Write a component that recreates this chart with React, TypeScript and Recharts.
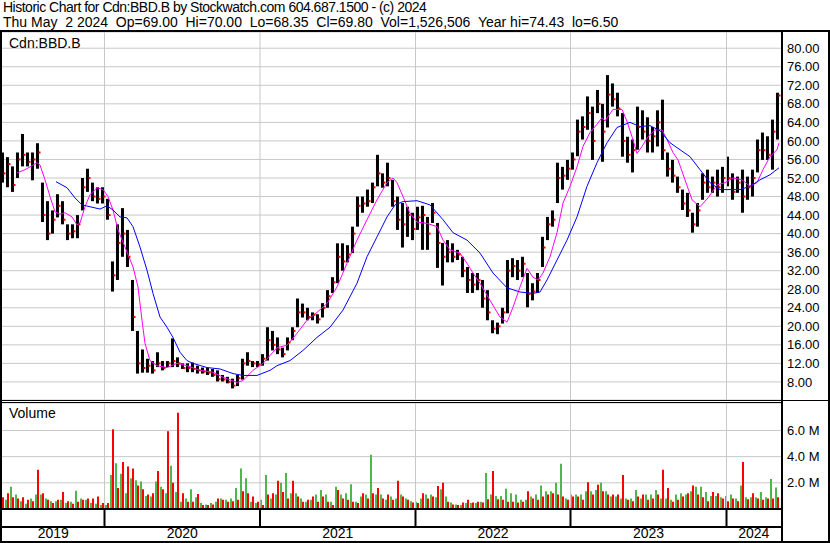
import {
  Bar,
  CartesianGrid,
  ComposedChart,
  Line,
  ReferenceLine,
  Scatter,
  XAxis,
  YAxis,
} from 'recharts';

// One slot = about 1.6 weeks of trading.
const high = [
  57.5, 56.5, 54.5, 57.5, 61.5, 57.5, 57.5, 59.5, 51, 47, 45, 48.5, 47, 42, 42, 44, 52, 54, 51, 50,
  50, 47.5, 34, 42, 45.5, 40.8, 30, 19, 15, 13, 12.5, 14.4, 12.5, 12.5, 17.4, 13.3, 12, 12, 12.2, 11.5,
  11.1, 11.1, 10.8, 10.5, 9.5, 9.1, 8.7, 9.5, 13, 14.4, 12.5, 12.5, 14, 19.8, 19, 17.6, 15.4, 17.6, 19.8, 26,
  24.9, 24, 23, 22.6, 25, 27.8, 30.6, 37.9, 37.9, 37.5, 41.5, 48, 48, 49.5, 51, 57, 53, 55.3, 51.6, 48,
  46.6, 45.8, 44.5, 45.8, 46, 43.6, 46.6, 42.3, 38, 38.6, 37.9, 36.5, 35, 32.8, 31.5, 31.5, 30, 27.8, 21.3, 20.8,
  24, 34.3, 34.7, 34.3, 35, 31.5, 29.3, 31.5, 39.3, 43.6, 45, 55.3, 54.4, 55.9, 57.5, 64.6, 65.3, 69.6, 67.4, 71,
  68, 74.2, 72.4, 70.4, 66, 60.9, 60.3, 67.4, 66.6, 65.1, 63, 66.6, 68.9, 57.5, 55.9, 52.3, 49.5, 48.8, 44.5, 46.6,
  53, 53.8, 52.3, 53.8, 54.4, 56.6, 53, 52.3, 53.8, 52.3, 53.8, 60.3, 61.8, 61, 64.6, 70.4,
];
const low = [
  51, 50, 49, 52, 54.5, 54.5, 51.5, 54, 42.5, 38.6, 40, 43.5, 42, 38.6, 39, 39, 45, 49, 47, 46.5,
  46.5, 43, 27.5, 30, 35, 32.8, 19, 9.8, 10, 10, 9.8, 11.2, 10.5, 11.2, 11.2, 11.2, 10.8, 10.1, 10.1, 9.8,
  9.8, 9.5, 9.1, 8.1, 8.1, 7.7, 6.6, 7.1, 8.5, 11.5, 11.2, 11.2, 11.5, 12.6, 14.8, 14, 13.3, 14.8, 17, 19.8,
  21.9, 21.3, 21.3, 20.6, 21.9, 24, 27.2, 29.3, 32, 33.8, 35.8, 41.5, 44.5, 45.8, 46.6, 50.2, 49.9, 50.2, 45.8, 40.8,
  37, 39.3, 38.6, 40.8, 36.5, 36.5, 42.3, 32.6, 28.8, 33.8, 33.8, 34.3, 30.6, 27.2, 27.2, 27.8, 24, 21.3, 18.5, 18.3,
  20.6, 22.8, 30.6, 30, 30.6, 24.1, 25.6, 27.2, 32.8, 38.6, 41.5, 46.6, 49.5, 51.6, 53.8, 56.7, 60.3, 62.4, 55.9, 66,
  55.5, 62.9, 67.4, 65.3, 56.6, 55.3, 53.2, 58.1, 60.3, 57.5, 57.5, 58.8, 55.9, 52.3, 51, 48.8, 45.1, 43.6, 40.2, 41.5,
  47.3, 48.8, 48.8, 48, 48.8, 50.2, 47.3, 48.8, 44.5, 47.3, 48, 53.2, 55.9, 55.9, 53.8, 60.3,
];
const close = [
  53, 55, 50.5, 56, 57, 55.5, 56, 57.5, 44, 40, 43, 46, 43, 40, 40.5, 42, 50, 52, 48, 47.5,
  48, 44, 31, 38, 40, 35, 22, 12, 11, 11.5, 10.5, 12, 11, 12, 12.5, 12, 11, 11, 10.8, 10.5,
  10.2, 10, 9.5, 8.6, 8.5, 8, 7.2, 8.8, 12, 12.5, 12, 11.8, 13, 17, 16, 15, 14, 16.5, 19, 23,
  23, 22, 22.5, 21.5, 24, 26.5, 29.5, 35, 34, 35.5, 40, 46, 46.5, 47, 50, 53, 51, 52, 47, 43,
  42, 44, 41, 43.5, 44, 40, 44.5, 38, 35, 36, 35, 35.5, 32, 30, 29, 30, 26, 23, 19.5, 20,
  23, 32, 33, 32, 33.5, 27, 27.5, 30, 37, 42, 43, 52, 52.5, 54, 56, 62, 63, 66, 60, 68,
  62, 70, 69, 67, 60, 57, 58, 63, 62, 60, 61, 64, 58, 54, 52.5, 50, 46.5, 45, 42, 45,
  51, 50, 51, 50, 52, 52, 49, 51, 48, 50, 52, 58, 58, 57, 62, 69.8,
];

// Volume in millions, split into up-day and down-day volume per slot.
const volUp = [
  0.6, 0.7, 1.7, 1.1, 0.6, 0.4, 0.8, 1.1, 1.1, 0.8, 0.6, 0.6, 0.7, 0.45, 0.55, 1.4, 0.8, 0.7, 0.45, 0.4,
  0.3, 0.3, 2.6, 3.5, 2.7, 1.2, 2.35, 2.2, 2.1, 1.0, 0.95, 2.1, 1.7, 1.2, 3.3, 1.3, 0.55, 0.8, 1.5, 0.9,
  0.45, 0.35, 0.45, 0.55, 0.8, 0.7, 0.8, 1.6, 3.1, 2.35, 0.55, 0.45, 0.7, 2.6, 0.8, 1.1, 2.0, 2.75, 1.2, 1.2,
  0.8, 0.55, 0.7, 1.1, 1.45, 1.1, 0.55, 1.7, 1.1, 1.2, 1.9, 0.55, 0.95, 1.1, 4.15, 1.1, 1.1, 0.7, 0.95, 0.8,
  1.1, 0.8, 0.6, 0.55, 0.8, 1.1, 1.1, 0.9, 1.5, 0.95, 0.5, 0.35, 0.3, 0.45, 0.45, 0.45, 0.55, 2.75, 1.1, 1.0,
  1.0, 1.55, 1.2, 1.1, 0.7, 0.7, 0.95, 1.1, 1.8, 1.35, 1.35, 2.0, 3.45, 0.8, 1.1, 1.1, 1.1, 1.35, 1.35, 1.45,
  2.0, 1.35, 0.95, 0.95, 0.8, 0.8, 0.8, 1.45, 0.8, 1.1, 1.1, 1.45, 0.8, 0.8, 0.7, 1.1, 1.2, 1.1, 1.35, 1.7,
  1.7, 1.3, 1.0, 1.0, 0.9, 1.0, 1.1, 0.8, 1.8, 0.9, 0.9, 0.9, 1.3, 0.9, 2.3, 1.65,
];
const volDown = [
  0.9, 1.2, 0.9, 0.8, 0.9, 0.7, 0.6, 3.0, 1.2, 0.7, 0.45, 0.7, 1.3, 0.6, 0.4, 0.55, 0.7, 0.8, 0.8, 0.95,
  0.45, 0.45, 6.1, 1.6, 3.6, 3.25, 3.1, 1.8, 1.5, 1.1, 1.2, 2.9, 1.5, 5.95, 2.0, 7.36, 1.2, 0.55, 0.55, 1.15,
  0.3, 0.3, 0.35, 0.8, 0.7, 0.55, 0.6, 0.7, 1.35, 1.2, 0.95, 0.55, 0.3, 1.1, 1.2, 2.15, 1.3, 0.8, 2.15, 0.95,
  0.55, 0.7, 0.95, 0.55, 0.95, 0.55, 0.3, 1.45, 0.8, 0.7, 0.55, 0.45, 1.2, 0.8, 1.2, 1.6, 0.8, 1.1, 0.7, 2.15,
  0.95, 0.7, 0.5, 0.45, 1.2, 0.8, 0.95, 1.75, 2.0, 0.55, 0.35, 0.3, 0.5, 0.7, 0.5, 0.55, 0.5, 0.75, 2.9, 0.75,
  0.7, 0.55, 0.55, 0.5, 0.55, 1.35, 0.8, 0.7, 0.95, 1.1, 1.2, 1.1, 0.95, 0.7, 0.95, 0.95, 0.7, 2.05, 1.1, 1.85,
  1.35, 1.1, 1.1, 1.1, 2.6, 0.7, 0.6, 0.95, 1.1, 0.7, 0.8, 1.1, 3.0, 1.6, 0.55, 0.7, 0.95, 1.2, 1.8, 1.1,
  0.9, 0.6, 1.3, 1.2, 0.8, 0.6, 0.8, 0.6, 3.6, 0.75, 1.2, 0.8, 0.7, 0.8, 0.8, 0.9,
];

// Moving averages as [slot, value] pairs.
const fastMa = [
  [2.9, 53.1], [4.5, 53.8], [5.5, 54.4], [6.9, 55.3], [7.5, 54.8], [8.5, 51.6], [9.5, 48], [10.5, 44.7],
  [11.5, 44.2], [12.5, 44.5], [13.9, 43.6], [14.9, 41.9], [15.5, 42.3], [16.5, 45.8], [17.5, 48.4], [18.9, 49.9],
  [20.1, 49.5], [21.1, 48], [22.1, 45.1], [23.1, 40.8], [24.5, 37.1], [26.1, 32.8], [27.1, 28.5], [27.9, 21.3],
  [28.5, 16.3], [29.5, 12.6], [30.9, 11.5], [32.9, 11.1], [34.9, 12], [36.9, 11.5], [39.5, 10.5], [42.1, 10.1],
  [44.1, 9], [46.9, 7.9], [48.1, 8.3], [50.1, 10.5], [52.1, 12], [54.9, 15.4], [56.9, 15.9], [58.9, 18.5],
  [60.9, 21.3], [62.9, 23], [64.9, 24.9], [66.9, 28.5], [68.9, 33.6], [70.9, 38.6], [72.9, 43], [74.9, 47.3],
  [76.9, 51], [78.1, 52], [78.9, 51], [80.1, 48], [81.5, 44.4], [82.9, 42.5], [84.9, 42.2], [86.9, 41.5],
  [88.1, 38.6], [89.5, 36.5], [91.5, 35.8], [92.9, 33.6], [94.1, 31.5], [95.5, 29.3], [97.5, 25.6], [99.5, 22],
  [100.9, 20.9], [102.1, 24.1], [103.5, 28.5], [104.9, 32.5], [106.1, 30.6], [107.1, 30], [108.1, 31.5], [109.5, 35],
  [110.9, 40.2], [112.1, 46.6], [113.5, 50.2], [114.9, 54.4], [116.1, 58.8], [117.5, 61.8], [118.9, 63.6], [119.9, 65],
  [120.5, 64.3], [122.1, 66.8], [123.9, 66.8], [124.9, 64.2], [125.9, 60.9], [126.9, 57.3], [127.9, 58.8], [129.1, 60.9],
  [130.5, 62.4], [131.9, 62.4], [132.9, 60.3], [134.1, 57.5], [135.1, 55.9], [136.5, 51.6], [137.9, 47.3], [139.5, 45.8],
  [141.1, 47.7], [142.9, 50.5], [144.5, 51], [146.1, 52], [147.9, 51.6], [149.5, 50.2], [150.9, 51], [152.1, 53.8],
  [153.5, 56.6], [154.9, 58.1], [155.3, 59.6],
];
const slowMa = [
  [10.7, 51.2], [12.9, 49.9], [14.5, 47.7], [15.9, 46.2], [17.5, 45.8], [19.5, 45.3], [20.9, 46], [22.1, 45.1],
  [23.5, 43.6], [24.9, 43.4], [26.1, 41.5], [27.5, 37.1], [28.9, 32.1], [30.1, 27.1], [31.5, 22], [32.9, 19.8],
  [34.1, 17.6], [35.5, 14.4], [36.9, 12.6], [38.1, 12], [40.9, 11.1], [43.5, 10.8], [46.1, 9.8], [48.1, 9.4],
  [50.9, 9.4], [53.5, 10.5], [54.9, 11.5], [57.5, 12.6], [60.1, 14.8], [62.9, 17.6], [65.5, 19.8], [68.1, 23.5],
  [70.9, 29.3], [72.9, 35], [74.9, 39.3], [76.9, 43.6], [78.5, 46.2], [80.1, 46.9], [82.9, 47.1], [85.5, 46.2],
  [88.1, 43], [90.1, 40.2], [92.9, 38.6], [95.5, 35.8], [98.1, 31.5], [100.9, 28.3], [103.5, 27.4], [106.1, 27.1],
  [107.5, 27.4], [108.9, 30], [110.9, 34.3], [112.9, 38.6], [114.9, 43.6], [116.9, 50.2], [118.9, 55.3], [120.9, 59.6],
  [122.9, 62.9], [125.5, 64], [127.5, 63.1], [129.5, 63.3], [131.5, 62.2], [133.5, 59.6], [135.5, 58.1], [137.5, 56.6],
  [139.5, 53.8], [141.5, 51], [143.5, 49.5], [145.5, 49.5], [147.5, 49.5], [149.5, 50.2], [151.5, 51.6], [153.5, 52.7],
  [155.3, 54.2],
];

const years = ['2019', '2020', '2021', '2022', '2023', '2024'];
const yearStarts = [20.4, 51.5, 82.6, 113.6, 144.8];
const priceTicks = [8, 12, 16, 20, 24, 28, 32, 36, 40, 44, 48, 52, 56, 60, 64, 68, 72, 76, 80];
const volTicks = [2, 4, 6];

const X_DOMAIN: [number, number] = [-0.1, 155.7];
const FONT = '"Liberation Sans", Arial, sans-serif';
const GRID = '#c8c8c8';

const priceRows = high.map((h, i) => ({ t: i, range: [low[i], h], close: close[i] }));
const volRows = volUp.map((u, i) => ({ t: i, up: u, down: volDown[i] }));
const fastRows = fastMa.map(([t, v]) => ({ t, v }));
const slowRows = slowMa.map(([t, v]) => ({ t, v }));

const bounds = [X_DOMAIN[0], ...yearStarts, X_DOMAIN[1]];
const yearMids = years.map((_, i) => (bounds[i] + bounds[i + 1]) / 2);

// high-low bar, centred on its slot
function RangeBar(props: any) {
  const { x, y, width, height } = props;
  if (height == null || isNaN(height)) return null;
  return <rect x={x + width / 2 - 1.5} y={y} width={3} height={Math.max(height, 1)} fill="#000" />;
}

function YearTick(props: any) {
  const { x, y, payload } = props;
  if (yearStarts.includes(payload.value)) {
    return <line x1={x} x2={x} y1={y} y2={y + 17} stroke="#000" strokeWidth={2} />;
  }
  const k = yearMids.indexOf(payload.value);
  return (
    <text x={x} y={y + 29} textAnchor="middle" fontSize={14} fontFamily={FONT} fill="#000">
      {years[k]}
    </text>
  );
}

function Rule({ left, top, width, height }: { left: number; top: number; width: number; height: number }) {
  return <div style={{ position: 'absolute', left, top, width, height, background: '#000' }} />;
}

export default function App() {
  const axisTick = { fontSize: 13, fontFamily: FONT, fill: '#000' };
  return (
    <div style={{ position: 'relative', width: 830, height: 543, background: '#fff', fontFamily: FONT, overflow: 'hidden' }}>
      <style>{'body{margin:0}'}</style>
      <div style={{ position: 'absolute', left: 3, top: 0, fontSize: 14, lineHeight: '15px', whiteSpace: 'pre', letterSpacing: -0.5 }}>
        Historic Chart for Cdn:BBD.B by Stockwatch.com 604.687.1500 - (c) 2024
      </div>
      <div style={{ position: 'absolute', left: 3, top: 15, fontSize: 14, lineHeight: '15px', whiteSpace: 'pre' }}>
        {'Thu May  2 2024  Op=69.00  Hi=70.00  Lo=68.35  Cl=69.80  Vol=1,526,506  Year hi=74.43  lo=6.50'}
      </div>

      <div style={{ position: 'absolute', left: 2, top: 32 }}>
        <ComposedChart width={826} height={368} data={priceRows} margin={{ top: 0, right: 0, bottom: 0, left: 0 }}>
          <CartesianGrid stroke={GRID} vertical={false} />
          <XAxis type="number" dataKey="t" domain={X_DOMAIN} hide />
          <YAxis
            orientation="right"
            width={47}
            domain={[4.1, 83.5]}
            ticks={priceTicks}
            interval={0}
            axisLine={false}
            tickLine={false}
            tickSize={6}
            tickMargin={0}
            tick={axisTick}
            tickFormatter={(v: number) => v.toFixed(2)}
          />
          {yearStarts.map((t) => (
            <ReferenceLine key={t} x={t} stroke={GRID} />
          ))}
          <Bar dataKey="range" barSize={3} fill="#000" shape={<RangeBar />} isAnimationActive={false} />
          <Scatter
            dataKey="close"
            isAnimationActive={false}
            shape={(p: any) => <rect x={p.cx + 1} y={p.cy - 1} width={2} height={2} fill="#ff0000" />}
          />
          <Line data={fastRows} dataKey="v" type="linear" stroke="#ff00ff" strokeWidth={1} dot={false} isAnimationActive={false} />
          <Line data={slowRows} dataKey="v" type="linear" stroke="#0000ff" strokeWidth={1} dot={false} isAnimationActive={false} />
        </ComposedChart>
      </div>

      <div style={{ position: 'absolute', left: 2, top: 403 }}>
        <ComposedChart
          width={826}
          height={138}
          data={volRows}
          margin={{ top: 0, right: 0, bottom: 0, left: 0 }}
          barGap={0}
          barCategoryGap={0}
        >
          <CartesianGrid stroke={GRID} vertical={false} />
          <XAxis
            type="number"
            dataKey="t"
            domain={X_DOMAIN}
            ticks={[...yearStarts, ...yearMids].sort((a, b) => a - b)}
            interval={0}
            height={32}
            axisLine={{ stroke: '#000', strokeWidth: 2 }}
            tickLine={false}
            tickSize={0}
            tickMargin={0}
            tick={<YearTick />}
          />
          <YAxis
            orientation="right"
            width={47}
            domain={[0, 8.1]}
            ticks={volTicks}
            interval={0}
            axisLine={false}
            tickLine={false}
            tickSize={6}
            tickMargin={0}
            tick={axisTick}
            tickFormatter={(v: number) => `${v.toFixed(1)} M`}
          />
          {yearStarts.map((t) => (
            <ReferenceLine key={t} x={t} stroke={GRID} />
          ))}
          <Bar dataKey="up" fill="#4cb84c" isAnimationActive={false} />
          <Bar dataKey="down" fill="#ff0000" isAnimationActive={false} />
        </ComposedChart>
      </div>

      <div style={{ position: 'absolute', left: 9, top: 35, fontSize: 14 }}>Cdn:BBD.B</div>
      <div style={{ position: 'absolute', left: 9, top: 405, fontSize: 14 }}>Volume</div>

      <Rule left={0} top={30} width={830} height={2} />
      <Rule left={0} top={400} width={830} height={1} />
      <Rule left={0} top={402} width={782} height={1} />
      <Rule left={0} top={526} width={782} height={2} />
      <Rule left={0} top={541} width={830} height={2} />
      <Rule left={0} top={30} width={2} height={513} />
      <Rule left={781} top={30} width={2} height={513} />
      <Rule left={828} top={30} width={2} height={513} />
    </div>
  );
}
